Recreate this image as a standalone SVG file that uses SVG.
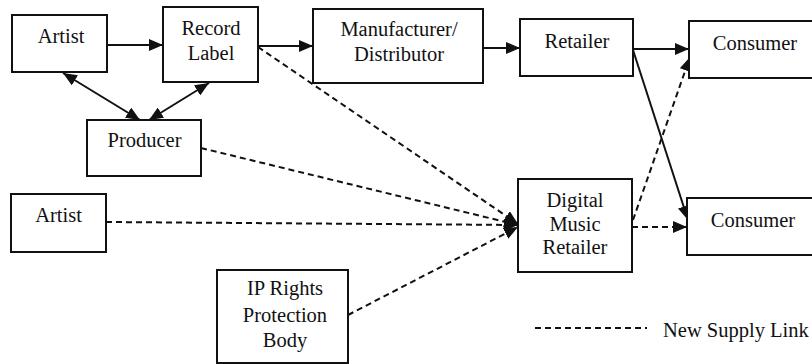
<svg xmlns="http://www.w3.org/2000/svg" width="812" height="364" viewBox="0 0 812 364">
<defs>
<style>
.box{fill:#fff;stroke:#111;stroke-width:2}
.t{font-size:20.5px;fill:#111;text-anchor:middle}
.ln{fill:none;stroke:#111;stroke-width:2}
.d{stroke-dasharray:6 4}
</style>
<marker id="ah" markerUnits="userSpaceOnUse" markerWidth="14" markerHeight="12" viewBox="0 0 14 12" refX="14" refY="6" orient="auto-start-reverse">
<path d="M0,0 L14,6 L0,12 z" fill="#111"/>
</marker>
</defs>
<rect width="812" height="364" fill="#fff"/>
<g id="connectors">
<line class="ln" x1="107" y1="45" x2="163" y2="45" marker-end="url(#ah)"/>
<line class="ln" x1="258" y1="46" x2="313" y2="46" marker-end="url(#ah)"/>
<line class="ln" x1="483" y1="48" x2="520" y2="48" marker-end="url(#ah)"/>
<line class="ln" x1="633" y1="49" x2="689" y2="49" marker-end="url(#ah)"/>
<line class="ln" x1="63" y1="73" x2="140" y2="120" marker-start="url(#ah)" marker-end="url(#ah)"/>
<line class="ln" x1="149" y1="120" x2="209" y2="83" marker-start="url(#ah)" marker-end="url(#ah)"/>
<line class="ln" x1="633" y1="50" x2="688" y2="220" marker-end="url(#ah)"/>
<line class="ln d" x1="258" y1="47" x2="518" y2="224" marker-end="url(#ah)"/>
<line class="ln d" x1="201" y1="148" x2="518" y2="225" marker-end="url(#ah)"/>
<line class="ln d" x1="106" y1="222" x2="518" y2="225" marker-end="url(#ah)"/>
<line class="ln d" x1="348" y1="315" x2="518" y2="227" marker-end="url(#ah)"/>
<line class="ln d" x1="633" y1="220" x2="690" y2="57" marker-end="url(#ah)"/>
<line class="ln d" x1="632" y1="227" x2="687" y2="227" marker-end="url(#ah)"/>
</g>
<g font-family="'Liberation Serif', 'DejaVu Serif', serif">
<g id="artist1"><rect class="box" x="12" y="15" width="95" height="57"/><text class="t" x="61" y="43">Artist</text></g>
<g id="recordLabel"><rect class="box" x="163" y="7" width="95" height="75"/><text class="t" x="211" y="35">Record</text><text class="t" x="211" y="60">Label</text></g>
<g id="manufacturer"><rect class="box" x="313" y="9" width="170" height="74"/><text class="t" x="399" y="36">Manufacturer/</text><text class="t" x="399" y="61">Distributor</text></g>
<g id="retailer"><rect class="box" x="520" y="19" width="113" height="57"/><text class="t" x="577" y="48">Retailer</text></g>
<g id="consumer1"><rect class="box" x="689" y="21" width="130" height="57"/><text class="t" x="755" y="50">Consumer</text></g>
<g id="producer"><rect class="box" x="87" y="120" width="114" height="56"/><text class="t" x="144.5" y="147">Producer</text></g>
<g id="artist2"><rect class="box" x="11" y="194" width="95" height="58"/><text class="t" x="58.5" y="222">Artist</text></g>
<g id="digitalMusicRetailer"><rect class="box" x="518" y="179" width="114" height="93"/><text class="t" x="575" y="207">Digital</text><text class="t" x="575" y="231">Music</text><text class="t" x="575" y="254">Retailer</text></g>
<g id="consumer2"><rect class="box" x="687" y="198" width="130" height="57"/><text class="t" x="753" y="227">Consumer</text></g>
<g id="ipRights"><rect class="box" x="217" y="270" width="131" height="93"/><text class="t" x="285" y="295">IP Rights</text><text class="t" x="285" y="322">Protection</text><text class="t" x="285" y="347">Body</text></g>
<g id="legend"><line class="ln d" x1="535" y1="328" x2="647" y2="328"/><text class="t" x="663" y="337" style="text-anchor:start">New Supply Link</text></g>
</g>
</svg>
